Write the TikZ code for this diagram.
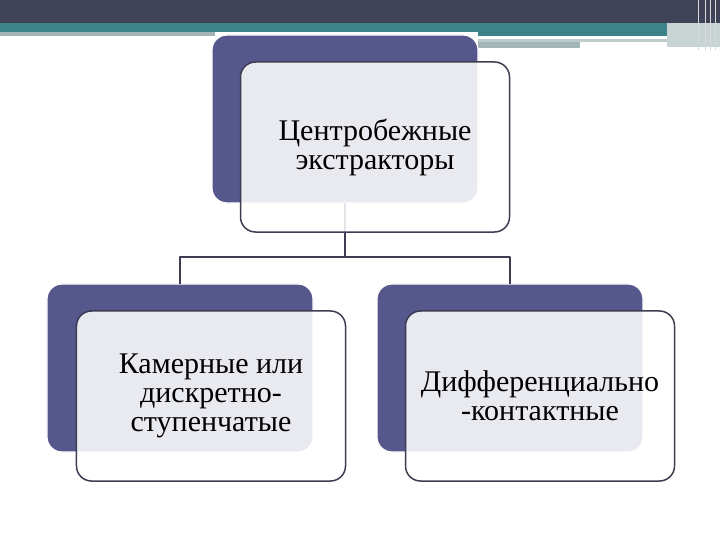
\documentclass[tikz,border=0pt]{standalone}
\usepackage{fontspec}
\setmainfont{Liberation Serif}
\usetikzlibrary{positioning}

\definecolor{backcol}{RGB}{86,87,140}
\definecolor{strokecol}{RGB}{60,60,82}
\definecolor{bandcol}{RGB}{64,67,87}
\definecolor{tealcol}{RGB}{62,130,137}
\definecolor{greycol}{RGB}{163,181,184}

\tikzset{
  backbox/.style={rectangle,rounded corners=15bp,fill=backcol,draw=white,line width=1.2bp,
    minimum width=266bp,minimum height=168bp,inner sep=0pt,outer sep=0pt},
  frontbox/.style={rectangle,rounded corners=15bp,fill=white,fill opacity=0.87,text opacity=1,
    draw=strokecol,draw opacity=1,line width=1.5bp,minimum width=269bp,minimum height=170bp,
    inner sep=0pt,outer sep=0pt,align=center,font=\fontsize{30bp}{29bp}\selectfont},
  link/.style={draw=strokecol,line width=1.5bp}
}

\begin{document}
\begin{tikzpicture}[x=1bp,y=-1bp,line join=bevel]

\useasboundingbox (0,0) rectangle (720,540);
\fill[white] (0,0) rectangle (720,540);

% Band: top
\fill[bandcol] (0,0) rectangle (720,23);
\fill[tealcol] (0,23) rectangle (720,32);
\fill[greycol] (0,32) rectangle (215,36);
\fill[tealcol] (478,32) rectangle (700,36);
\fill[greycol!70] (478,39) rectangle (667,42);
\fill[greycol] (478,42) rectangle (580,48);
\fill[greycol!60] (667,23) rectangle (720,47);
\foreach \x in {698,705,710,715}
  \draw[white!70!gray,line width=1bp] (\x,0) -- (\x,50);

% Node: F0
\node[backbox] (F0back) at (345,119) {};

% Node: F1
\node[backbox] (F1back) at (180,368) {};

% Node: F2
\node[backbox] (F2back) at (510,368) {};

% Edge: F0 -> F1, F0 -> F2
\coordinate (J) at (345,257);
\draw[link] (F0back.south) -- (J);
\draw[link] (J) -| (F1back.north);
\draw[link] (J) -| (F2back.north);

\node[frontbox] (F0) at (375,147) {Центробежные\\экстракторы};
\node[frontbox] (F1) at (211,396) {Камерные или\\дискретно-\\ступенчатые};
\node[frontbox] (F2) at (540,396) {Дифференциально\\-контактные};

\end{tikzpicture}
\end{document}
